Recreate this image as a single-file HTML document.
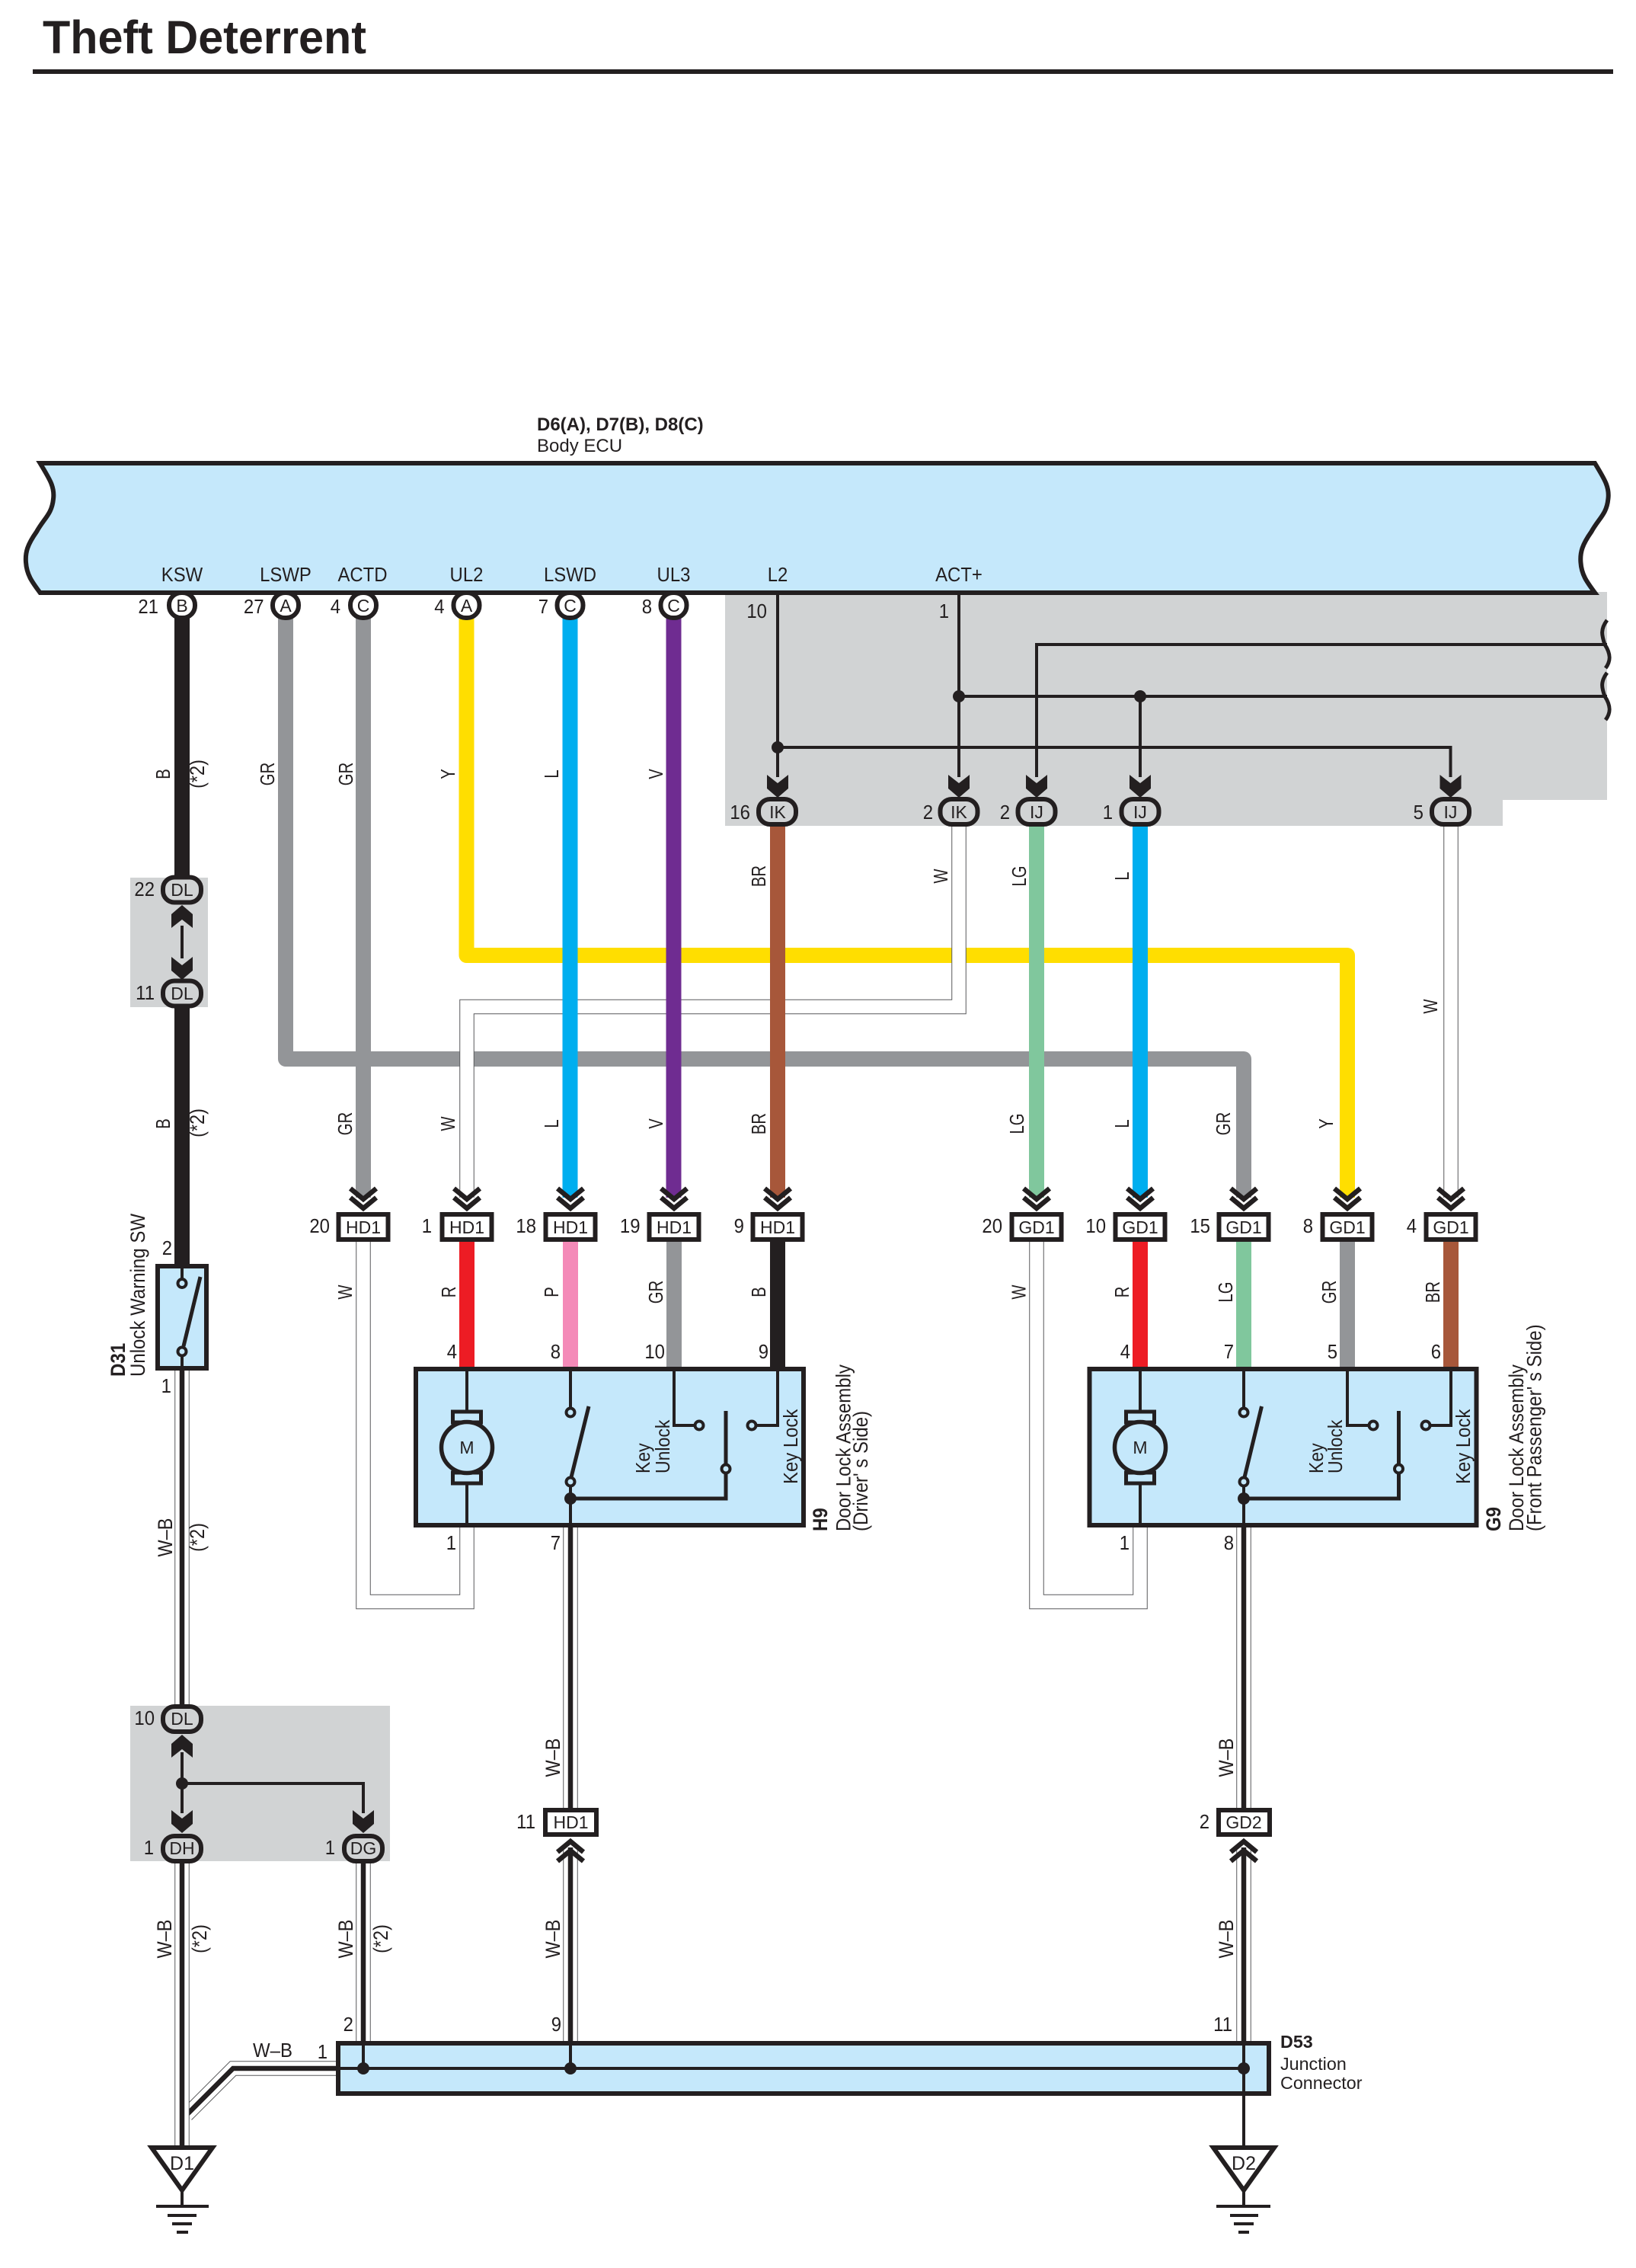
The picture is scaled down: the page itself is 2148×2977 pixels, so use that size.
<!DOCTYPE html>
<html><head><meta charset="utf-8"><title>Theft Deterrent</title>
<style>
html,body{margin:0;padding:0;background:#fff}
svg{display:block}
text{font-family:"Liberation Sans",sans-serif;font-size:24px;fill:#231f20}
.b{font-weight:bold}
.n{text-anchor:end;font-size:26px;transform-box:fill-box;transform-origin:right center;transform:scaleX(.92)}
.m{text-anchor:middle;font-size:26px;transform-box:fill-box;transform-origin:center;transform:scaleX(.92)}
.s{font-size:23px;text-anchor:middle}
.t{font-size:23px;text-anchor:middle}
.v{text-anchor:middle;font-size:27px}
.c{text-anchor:middle;font-size:26px}
.dv{font-size:27px}
.w{fill:none;stroke-width:20;stroke-linejoin:round}
.tw{fill:none;stroke:#231f20;stroke-width:4}
.o{fill:none;stroke:#58595b;stroke-width:19.5;stroke-linejoin:miter}
.i{fill:none;stroke:#fff;stroke-width:17.5}
.k{fill:none;stroke:#231f20;stroke-width:6.5;stroke-linejoin:miter}
.box{fill:#c5e8fb;stroke:#231f20;stroke-width:6;stroke-linejoin:miter}
.pin{fill:#fff;stroke:#231f20;stroke-width:6}
.pg{fill:#d1d3d4;stroke:#231f20;stroke-width:6}
.cb{fill:#fff;stroke:#231f20;stroke-width:6}
.ct{fill:#c5e8fb;stroke:#231f20;stroke-width:4}
.lv{stroke:#231f20;stroke-width:5;fill:none}
.d{fill:#231f20}
.g{stroke:#231f20;stroke-width:4;fill:none}
</style></head><body>
<svg xmlns="http://www.w3.org/2000/svg" width="2148" height="2977" viewBox="0 0 2148 2977">
<defs>
<path id="h" d="M-14,-30 L0,-19 L14,-30 L14,-12 L0,0 L-14,-12Z" fill="#231f20"/>
<path id="c" d="M-17,-30 L0,-16 L17,-30 M-17,-18 L0,-4 L17,-18" fill="none" stroke="#231f20" stroke-width="6.5"/>
<path id="l1" d="M239,1799 V2238"/>
<path id="l2" d="M239,2445 V2817"/>
<path id="l3" d="M477,2445 V2681"/>
<path id="l4" d="M749,2003 V2373"/>
<path id="l5" d="M749,2425 V2681"/>
<path id="l6" d="M1633,2003 V2373"/>
<path id="l7" d="M1633,2425 V2681"/>
<path id="l8" d="M443,2715 H306 L245,2776"/>
<path id="wl1" d="M477,1630 V2102.5 H613 V2003"/>
<path id="wl2" d="M1361,1630 V2102.5 H1497 V2003"/>
<path id="wt1" d="M1259,1085 V1321.5 H613 V1572"/>
<path id="wt2" d="M1905,1085 V1572"/>
</defs>
<rect width="2148" height="2977" fill="#fff"/>

<text class="b" x="56" y="70" style="font-size:61px" textLength="425" lengthAdjust="spacingAndGlyphs">Theft Deterrent</text>
<rect x="43" y="91" width="2071" height="6" fill="#231f20"/>
<rect x="2114" y="91" width="0" height="0" fill="none"/>
<rect x="43" y="91" width="2075" height="6" fill="#231f20"/>

<!-- grey regions -->
<path d="M952,777 H2110 V1050 H1973 V1084 H952Z" fill="#d1d3d4"/>
<rect x="171" y="1152" width="102" height="170" fill="#d1d3d4"/>
<rect x="171" y="2239" width="341" height="204" fill="#d1d3d4"/>

<!-- horizontal wires -->
<path class="w" stroke="#939598" d="M375,810 V1390 H1633 V1572"/>
<path class="w" stroke="#ffde00" d="M612.5,810 V1254 H1769 V1572"/>
<use href="#wt1" class="o"/><use href="#wt1" class="i"/>
<use href="#wt2" class="o"/><use href="#wt2" class="i"/>
<!-- vertical wires -->
<path class="w" stroke="#231f20" d="M239,810 V1150 M239,1320 V1660"/>
<path class="w" stroke="#939598" d="M477,810 V1572"/>
<path class="w" stroke="#00aeef" d="M748.5,810 V1572"/>
<path class="w" stroke="#6f2c91" d="M884.5,810 V1572"/>
<path class="w" stroke="#a7573a" d="M1021,1085 V1572"/>
<path class="w" stroke="#80c79d" d="M1361,1085 V1572"/>
<path class="w" stroke="#00aeef" d="M1497,1085 V1572"/>
<!-- lower coloured -->
<path class="w" stroke="#ed1c24" d="M613,1630 V1797 M1497,1630 V1797"/>
<path class="w" stroke="#f48ab8" d="M749,1630 V1797"/>
<path class="w" stroke="#939598" d="M885,1630 V1797 M1769,1630 V1797"/>
<path class="w" stroke="#231f20" d="M1021,1630 V1797"/>
<path class="w" stroke="#80c79d" d="M1633,1630 V1797"/>
<path class="w" stroke="#a7573a" d="M1905,1630 V1797"/>
<!-- white loops -->
<use href="#wl1" class="o"/><use href="#wl1" class="i"/>
<use href="#wl2" class="o"/><use href="#wl2" class="i"/>
<!-- W-B wires -->
<use href="#l8" class="o"/><use href="#l8" class="i"/><use href="#l8" class="k"/>
<use href="#l1" class="o"/><use href="#l1" class="i"/><use href="#l1" class="k"/>
<use href="#l2" class="o"/><use href="#l2" class="i"/><use href="#l2" class="k"/>
<use href="#l3" class="o"/><use href="#l3" class="i"/><use href="#l3" class="k"/>
<use href="#l4" class="o"/><use href="#l4" class="i"/><use href="#l4" class="k"/>
<use href="#l5" class="o"/><use href="#l5" class="i"/><use href="#l5" class="k"/>
<use href="#l6" class="o"/><use href="#l6" class="i"/><use href="#l6" class="k"/>
<use href="#l7" class="o"/><use href="#l7" class="i"/><use href="#l7" class="k"/>

<!-- ECU -->
<path class="box" d="M52.6,608 H2094 C2107.4,630 2113.4,640 2111.4,655 C2109.4,675 2099.4,680 2089.4,698 C2077.4,715 2074.4,725 2075.4,738 C2076.4,755 2084.4,765 2094,778 H52.6 C43,765 35,755 34,738 C33,725 36,715 48,698 C58,680 68,675 70,655 C72,640 66,630 52.6,608Z"/>
<text class="b" x="705" y="565">D6(A), D7(B), D8(C)</text>
<text x="705" y="593">Body ECU</text>
<text class="m" x="239" y="763">KSW</text>
<text class="m" x="375" y="763">LSWP</text>
<text class="m" x="476" y="763">ACTD</text>
<text class="m" x="612.5" y="763">UL2</text>
<text class="m" x="748.5" y="763">LSWD</text>
<text class="m" x="884.5" y="763">UL3</text>
<text class="m" x="1021" y="763">L2</text>
<text class="m" x="1259" y="763">ACT+</text>

<!-- ECU pins -->
<rect class="pin" x="222" y="778" width="34" height="33" rx="16"/>
<rect class="pin" x="358" y="778" width="34" height="33" rx="16"/>
<rect class="pin" x="460" y="778" width="34" height="33" rx="16"/>
<rect class="pin" x="595.5" y="778" width="34" height="33" rx="16"/>
<rect class="pin" x="731.5" y="778" width="34" height="33" rx="16"/>
<rect class="pin" x="867.5" y="778" width="34" height="33" rx="16"/>
<text class="s" x="239" y="803">B</text>
<text class="s" x="375" y="803">A</text>
<text class="s" x="477" y="803">C</text>
<text class="s" x="612.5" y="803">A</text>
<text class="s" x="748.5" y="803">C</text>
<text class="s" x="884.5" y="803">C</text>
<text class="n" x="208" y="805">21</text>
<text class="n" x="346.5" y="805">27</text>
<text class="n" x="447" y="805">4</text>
<text class="n" x="583.5" y="805">4</text>
<text class="n" x="720" y="805">7</text>
<text class="n" x="856" y="805">8</text>

<!-- grey region wiring -->
<path class="tw" d="M1021,778 V1020 M1021,981 H1904.5 V1020 M1259,778 V1020 M1259,914 H2110 M1497,914 V1020 M1361,1020 V846 H2110"/>
<circle class="d" cx="1021" cy="981" r="8"/>
<circle class="d" cx="1259" cy="914" r="8"/>
<circle class="d" cx="1497" cy="914" r="8"/>
<path class="lv" d="M2110,814 C2101,826 2103,834 2107,846 C2115,858 2115,868 2108,877 M2110,883 C2101,895 2103,903 2107,914 C2115,926 2115,936 2108,945"/>
<use href="#h" x="1021" y="1047"/><use href="#h" x="1259" y="1047"/><use href="#h" x="1361" y="1047"/><use href="#h" x="1497" y="1047"/><use href="#h" x="1904.5" y="1047"/>
<rect class="pg" x="996" y="1049" width="49" height="33" rx="15"/>
<rect class="pg" x="1234.5" y="1049" width="49" height="33" rx="15"/>
<rect class="pg" x="1336.5" y="1049" width="49" height="33" rx="15"/>
<rect class="pg" x="1472.5" y="1049" width="49" height="33" rx="15"/>
<rect class="pg" x="1880" y="1049" width="49" height="33" rx="15"/>
<text class="s" x="1021" y="1074">IK</text>
<text class="s" x="1259" y="1074">IK</text>
<text class="s" x="1361" y="1074">IJ</text>
<text class="s" x="1497" y="1074">IJ</text>
<text class="s" x="1904.5" y="1074">IJ</text>
<text class="n" x="1007" y="811">10</text>
<text class="n" x="1246" y="811">1</text>
<text class="n" x="985" y="1075">16</text>
<text class="n" x="1225" y="1075">2</text>
<text class="n" x="1326" y="1075">2</text>
<text class="n" x="1461" y="1075">1</text>
<text class="n" x="1869" y="1075">5</text>

<!-- DL pair -->
<path class="tw" d="M239,1215 V1258"/>
<use href="#h" transform="translate(239,1188) scale(1,-1)"/>
<use href="#h" x="239" y="1286"/>
<rect class="pg" x="214" y="1151.5" width="50" height="33" rx="15"/>
<rect class="pg" x="214" y="1287.5" width="50" height="33" rx="15"/>
<text class="s" x="239" y="1176">DL</text>
<text class="s" x="239" y="1312">DL</text>
<text class="n" x="203" y="1176">22</text>
<text class="n" x="203" y="1312">11</text>

<!-- wire labels upper row -->
<text class="c" transform="translate(223,1016) rotate(-90) scale(.78,1)">B</text>
<text class="v" transform="translate(268,1016) rotate(-90) scale(.87,1)">(*2)</text>
<text class="c" transform="translate(360,1016) rotate(-90) scale(.78,1)">GR</text>
<text class="c" transform="translate(463,1016) rotate(-90) scale(.78,1)">GR</text>
<text class="c" transform="translate(597,1016) rotate(-90) scale(.78,1)">Y</text>
<text class="c" transform="translate(733,1016) rotate(-90) scale(.78,1)">L</text>
<text class="c" transform="translate(870,1016) rotate(-90) scale(.78,1)">V</text>
<text class="c" transform="translate(1005,1150) rotate(-90) scale(.78,1)">BR</text>
<text class="c" transform="translate(1244,1150) rotate(-90) scale(.78,1)">W</text>
<text class="c" transform="translate(1347,1150) rotate(-90) scale(.78,1)">LG</text>
<text class="c" transform="translate(1482,1150) rotate(-90) scale(.78,1)">L</text>
<text class="c" transform="translate(1887,1321) rotate(-90) scale(.78,1)">W</text>
<text class="c" transform="translate(223,1475) rotate(-90) scale(.78,1)">B</text>
<text class="v" transform="translate(268,1474) rotate(-90) scale(.87,1)">(*2)</text>
<text class="c" transform="translate(462,1475) rotate(-90) scale(.78,1)">GR</text>
<text class="c" transform="translate(597,1475) rotate(-90) scale(.78,1)">W</text>
<text class="c" transform="translate(733,1475) rotate(-90) scale(.78,1)">L</text>
<text class="c" transform="translate(870,1475) rotate(-90) scale(.78,1)">V</text>
<text class="c" transform="translate(1005,1475) rotate(-90) scale(.78,1)">BR</text>
<text class="c" transform="translate(1344,1475) rotate(-90) scale(.78,1)">LG</text>
<text class="c" transform="translate(1482,1475) rotate(-90) scale(.78,1)">L</text>
<text class="c" transform="translate(1615,1475) rotate(-90) scale(.78,1)">GR</text>
<text class="c" transform="translate(1750,1475) rotate(-90) scale(.78,1)">Y</text>

<!-- chevrons and HD1/GD1 -->
<use href="#c" x="477" y="1590"/><use href="#c" x="613" y="1590"/><use href="#c" x="749" y="1590"/><use href="#c" x="885" y="1590"/><use href="#c" x="1021" y="1590"/>
<use href="#c" x="1361" y="1590"/><use href="#c" x="1497" y="1590"/><use href="#c" x="1633" y="1590"/><use href="#c" x="1769" y="1590"/><use href="#c" x="1905" y="1590"/>
<rect class="cb" x="444.5" y="1594" width="65" height="33"/>
<rect class="cb" x="580.5" y="1594" width="65" height="33"/>
<rect class="cb" x="716.5" y="1594" width="65" height="33"/>
<rect class="cb" x="852.5" y="1594" width="65" height="33"/>
<rect class="cb" x="988.5" y="1594" width="65" height="33"/>
<rect class="cb" x="1328.5" y="1594" width="65" height="33"/>
<rect class="cb" x="1464.5" y="1594" width="65" height="33"/>
<rect class="cb" x="1600.5" y="1594" width="65" height="33"/>
<rect class="cb" x="1736.5" y="1594" width="65" height="33"/>
<rect class="cb" x="1872.5" y="1594" width="65" height="33"/>
<text class="t" x="477" y="1619">HD1</text>
<text class="t" x="613" y="1619">HD1</text>
<text class="t" x="749" y="1619">HD1</text>
<text class="t" x="885" y="1619">HD1</text>
<text class="t" x="1021" y="1619">HD1</text>
<text class="t" x="1361" y="1619">GD1</text>
<text class="t" x="1497" y="1619">GD1</text>
<text class="t" x="1633" y="1619">GD1</text>
<text class="t" x="1769" y="1619">GD1</text>
<text class="t" x="1905" y="1619">GD1</text>
<text class="n" x="433" y="1618">20</text>
<text class="n" x="567" y="1618">1</text>
<text class="n" x="704" y="1618">18</text>
<text class="n" x="840.5" y="1618">19</text>
<text class="n" x="977" y="1618">9</text>
<text class="n" x="1316" y="1618">20</text>
<text class="n" x="1452" y="1618">10</text>
<text class="n" x="1589" y="1618">15</text>
<text class="n" x="1724" y="1618">8</text>
<text class="n" x="1860" y="1618">4</text>

<!-- labels lower coloured -->
<text class="c" transform="translate(462,1696) rotate(-90) scale(.78,1)">W</text>
<text class="c" transform="translate(598,1696) rotate(-90) scale(.78,1)">R</text>
<text class="c" transform="translate(733,1696) rotate(-90) scale(.78,1)">P</text>
<text class="c" transform="translate(870,1696) rotate(-90) scale(.78,1)">GR</text>
<text class="c" transform="translate(1005,1696) rotate(-90) scale(.78,1)">B</text>
<text class="c" transform="translate(1346.5,1696) rotate(-90) scale(.78,1)">W</text>
<text class="c" transform="translate(1482,1696) rotate(-90) scale(.78,1)">R</text>
<text class="c" transform="translate(1618,1696) rotate(-90) scale(.78,1)">LG</text>
<text class="c" transform="translate(1754,1696) rotate(-90) scale(.78,1)">GR</text>
<text class="c" transform="translate(1890,1696) rotate(-90) scale(.78,1)">BR</text>

<!-- D31 -->
<rect class="box" x="207" y="1662" width="64" height="134"/>
<path class="tw" d="M239,1662 V1679 M239,1780 V1796"/>
<circle class="ct" cx="239" cy="1684.5" r="5.5"/>
<circle class="ct" cx="239" cy="1774" r="5.5"/>
<path class="lv" d="M263,1676 L241,1767"/>
<text class="n" x="226" y="1647">2</text>
<text class="n" x="225" y="1828">1</text>
<text class="b dv" transform="translate(164,1807) rotate(-90) scale(.89,1)">D31</text>
<text class="dv" transform="translate(190,1807) rotate(-90) scale(.89,1)">Unlock Warning SW</text>
<text class="v" transform="translate(226,2018) rotate(-90) scale(.87,1)">W–B</text>
<text class="v" transform="translate(268,2018) rotate(-90) scale(.87,1)">(*2)</text>

<!-- H9 -->
<rect class="box" x="546" y="1797" width="509" height="205"/>
<path class="tw" d="M613,1798 V1852 M613,1947 V2002"/>
<rect x="594.5" y="1853" width="37" height="14" fill="#c5e8fb" stroke="#231f20" stroke-width="5"/>
<rect x="594.5" y="1933" width="37" height="14" fill="#c5e8fb" stroke="#231f20" stroke-width="5"/>
<circle cx="613" cy="1900" r="33.5" fill="#c5e8fb" stroke="#231f20" stroke-width="5.5"/>
<text class="s" x="613" y="1908">M</text>
<path class="tw" d="M749,1798 V1848 M749,1951 V2002 M885,1798 V1871 H912 M1021,1798 V1871 H993"/>
<path class="lv" d="M773,1846 L750,1939 M749,1967 H953 V1852"/>
<circle class="ct" cx="749" cy="1854" r="5.5"/>
<circle class="ct" cx="749" cy="1945" r="5.5"/>
<circle class="d" cx="749" cy="1967" r="8"/>
<circle class="ct" cx="953" cy="1928" r="5.5"/>
<circle class="ct" cx="918" cy="1871" r="5.5"/>
<circle class="ct" cx="987" cy="1871" r="5.5"/>
<text style="font-size:26px" transform="translate(853,1934) rotate(-90) scale(.885,1)">Key</text>
<text style="font-size:26px" transform="translate(879,1934) rotate(-90) scale(.885,1)">Unlock</text>
<text style="font-size:26px" transform="translate(1047,1948) rotate(-90) scale(.92,1)">Key Lock</text>
<text class="n" x="600" y="1783">4</text>
<text class="n" x="736" y="1783">8</text>
<text class="n" x="873" y="1783">10</text>
<text class="n" x="1009" y="1783">9</text>
<text class="n" x="599" y="2034">1</text>
<text class="n" x="736" y="2034">7</text>
<text class="b dv" transform="translate(1086,2010) rotate(-90) scale(.89,1)">H9</text>
<text class="dv" transform="translate(1116.5,2010) rotate(-90) scale(.89,1)">Door Lock Assembly</text>
<text class="dv" transform="translate(1139,2010) rotate(-90) scale(.89,1)">(Driver' s Side)</text>

<!-- G9 -->
<rect class="box" x="1430.5" y="1797" width="508" height="205"/>
<path class="tw" d="M1497,1798 V1852 M1497,1947 V2002"/>
<rect x="1478.5" y="1853" width="37" height="14" fill="#c5e8fb" stroke="#231f20" stroke-width="5"/>
<rect x="1478.5" y="1933" width="37" height="14" fill="#c5e8fb" stroke="#231f20" stroke-width="5"/>
<circle cx="1497" cy="1900" r="33.5" fill="#c5e8fb" stroke="#231f20" stroke-width="5.5"/>
<text class="s" x="1497" y="1908">M</text>
<path class="tw" d="M1633,1798 V1848 M1633,1951 V2002 M1769,1798 V1871 H1797 M1905,1798 V1871 H1878"/>
<path class="lv" d="M1656.5,1846 L1634,1939 M1633,1967 H1836.5 V1852"/>
<circle class="ct" cx="1633" cy="1854" r="5.5"/>
<circle class="ct" cx="1633" cy="1945" r="5.5"/>
<circle class="d" cx="1633" cy="1967" r="8"/>
<circle class="ct" cx="1836.5" cy="1928" r="5.5"/>
<circle class="ct" cx="1803" cy="1871" r="5.5"/>
<circle class="ct" cx="1872" cy="1871" r="5.5"/>
<text style="font-size:26px" transform="translate(1737,1934) rotate(-90) scale(.885,1)">Key</text>
<text style="font-size:26px" transform="translate(1762,1934) rotate(-90) scale(.885,1)">Unlock</text>
<text style="font-size:26px" transform="translate(1930,1948) rotate(-90) scale(.92,1)">Key Lock</text>
<text class="n" x="1484" y="1783">4</text>
<text class="n" x="1620" y="1783">7</text>
<text class="n" x="1756" y="1783">5</text>
<text class="n" x="1892" y="1783">6</text>
<text class="n" x="1483" y="2034">1</text>
<text class="n" x="1620" y="2034">8</text>
<text class="b dv" transform="translate(1970,2010) rotate(-90) scale(.89,1)">G9</text>
<text class="dv" transform="translate(2000,2010) rotate(-90) scale(.89,1)">Door Lock Assembly</text>
<text class="dv" transform="translate(2023.5,2010) rotate(-90) scale(.89,1)">(Front Passenger' s Side)</text>

<!-- DL / DH / DG -->
<path class="tw" d="M239,2300 V2380 M239,2341 H477 V2380"/>
<circle class="d" cx="239" cy="2341" r="8"/>
<use href="#h" transform="translate(239,2277) scale(1,-1)"/>
<use href="#h" x="239" y="2406"/>
<use href="#h" x="477" y="2406"/>
<rect class="pg" x="214" y="2240" width="50" height="33" rx="15"/>
<rect class="pg" x="214" y="2410" width="50" height="33" rx="15"/>
<rect class="pg" x="452" y="2410" width="50" height="33" rx="15"/>
<text class="s" x="239" y="2264">DL</text>
<text class="s" x="239" y="2434">DH</text>
<text class="s" x="477" y="2434">DG</text>
<text class="n" x="203" y="2264">10</text>
<text class="n" x="202" y="2434">1</text>
<text class="n" x="440" y="2434">1</text>

<!-- lower connectors -->
<rect class="cb" x="716" y="2376" width="67" height="32"/>
<rect class="cb" x="1600" y="2376" width="67" height="32"/>
<text class="t" x="749.5" y="2400">HD1</text>
<text class="t" x="1633" y="2400">GD2</text>
<text class="n" x="703" y="2400">11</text>
<text class="n" x="1588" y="2400">2</text>
<use href="#c" transform="translate(749,2413) scale(1,-1)"/>
<use href="#c" transform="translate(1633,2413) scale(1,-1)"/>
<text class="v" transform="translate(735,2307) rotate(-90) scale(.87,1)">W–B</text>
<text class="v" transform="translate(1619,2307) rotate(-90) scale(.87,1)">W–B</text>
<text class="v" transform="translate(225,2545) rotate(-90) scale(.87,1)">W–B</text>
<text class="v" transform="translate(271,2545) rotate(-90) scale(.87,1)">(*2)</text>
<text class="v" transform="translate(463,2545) rotate(-90) scale(.87,1)">W–B</text>
<text class="v" transform="translate(509,2545) rotate(-90) scale(.87,1)">(*2)</text>
<text class="v" transform="translate(735,2545) rotate(-90) scale(.87,1)">W–B</text>
<text class="v" transform="translate(1619,2545) rotate(-90) scale(.87,1)">W–B</text>

<!-- D53 -->
<rect class="box" x="444" y="2682" width="1222" height="66"/>
<path class="tw" d="M443,2715 H1633 M477,2684 V2715 M749,2684 V2715 M1633,2684 V2816"/>
<circle class="d" cx="477" cy="2715" r="8"/>
<circle class="d" cx="749" cy="2715" r="8"/>
<circle class="d" cx="1633" cy="2715" r="8"/>
<text class="n" x="464" y="2666">2</text>
<text class="n" x="737" y="2666">9</text>
<text class="n" x="1618" y="2666">11</text>
<text x="332" y="2700" style="font-size:26px" textLength="52" lengthAdjust="spacingAndGlyphs">W–B</text>
<text class="n" x="430" y="2702">1</text>
<text class="b" x="1681" y="2688" style="font-size:23.3px">D53</text>
<text x="1681" y="2717" style="font-size:23.3px">Junction</text>
<text x="1681" y="2742" style="font-size:23.3px">Connector</text>

<!-- grounds -->
<path d="M199,2819 H279 L239,2875Z" fill="#fff" stroke="#231f20" stroke-width="6"/>
<text class="s" style="font-size:25px" x="239" y="2848">D1</text>
<path class="g" d="M239,2876 V2896 M205,2896 H274 M220,2908 H258 M226,2919 H252 M232,2930 H247"/>
<path d="M1593,2819 H1673 L1633,2875Z" fill="#fff" stroke="#231f20" stroke-width="6"/>
<text class="s" style="font-size:25px" x="1633" y="2848">D2</text>
<path class="g" d="M1633,2876 V2896 M1597,2896 H1668 M1615,2908 H1652 M1620,2919 H1646 M1626,2930 H1640"/>
</svg>
</body></html>
